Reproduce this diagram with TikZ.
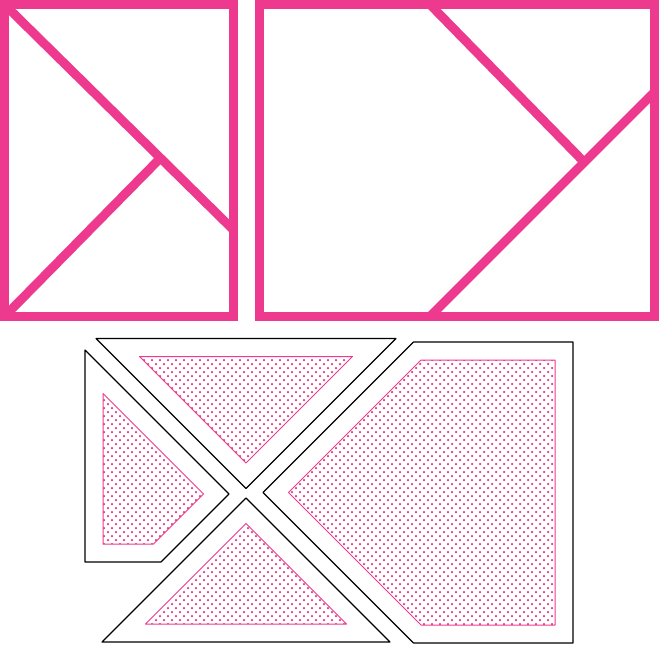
\documentclass[tikz,border=0pt]{standalone}
\definecolor{pk}{HTML}{EE3A8E}
\definecolor{pkdot}{HTML}{DC3A80}
\tikzset{
  frameline/.style={draw=pk, line width=9pt, line join=miter},
  cutline/.style={draw=pk, line width=9pt, line cap=butt},
  piece/.style={draw=black, line width=1.1pt, line join=round},
  inner/.style={draw=pk, line width=1pt, line join=round},
  dotmark/.style={fill=pkdot}
}
\newcommand{\dotgrid}[2]{%
  \foreach \yy in {#2}{%
    \foreach \xx in {#1}{%
      \fill[dotmark] (\xx,\yy) circle[radius=1.25pt] (\xx+4,\yy+4) circle[radius=1.25pt];
    }%
  }%
}
\begin{document}
\begin{tikzpicture}[x=1pt, y=-1pt]
\useasboundingbox (0,0) rectangle (659,645);
% ---- top left rectangle
\draw[frameline] (4.5,4.5) rectangle (233.5,316.5);
\coordinate (l1a) at (4.5,4.5);
\coordinate (l1b) at (233.5,230);
\coordinate (l2a) at (4.5,316.5);
\coordinate (lx) at (158.5,160);
\draw[cutline] (l1a) -- (l1b);
\draw[cutline] (l2a) -- (lx);
% ---- top right rectangle
\draw[frameline] (259,4.5) rectangle (654,316.5);
\coordinate (r1a) at (430,4.5);
\coordinate (rx) at (584,162);
\coordinate (r2a) at (430,316.5);
\coordinate (r2b) at (654,92.5);
\draw[cutline] (r1a) -- (rx);
\draw[cutline] (r2a) -- (r2b);
% ---- bottom pieces: outer outlines
\draw[piece] (96,338.5) -- (396,338.5) -- (246,488.5) -- cycle;
\draw[piece] (246,498) -- (390,642) -- (102,642) -- cycle;
\draw[piece] (85,350) -- (229,494) -- (161,562) -- (85,562) -- cycle;
\draw[piece] (413.5,342) -- (573,342) -- (573,643) -- (413.5,643) -- (263,492.5) -- cycle;
% ---- inner dotted areas
\begin{scope}
  \clip (139.5,356.5) -- (352.5,356.5) -- (246,463) -- cycle;
  \dotgrid{136,144,...,352}{352,360,...,464}
\end{scope}
\begin{scope}
  \clip (246,523.5) -- (346.5,624) -- (145.5,624) -- cycle;
  \dotgrid{144,152,...,352}{520,528,...,624}
\end{scope}
\begin{scope}
  \clip (103,393.5) -- (203.5,494) -- (153.5,544) -- (103,544) -- cycle;
  \dotgrid{96,104,...,208}{392,400,...,544}
\end{scope}
\begin{scope}
  \clip (421,360) -- (555,360) -- (555,625) -- (421,625) -- (288.5,492.5) -- cycle;
  \dotgrid{280,288,...,560}{352,360,...,624}
\end{scope}
\draw[inner] (139.5,356.5) -- (352.5,356.5) -- (246,463) -- cycle;
\draw[inner] (246,523.5) -- (346.5,624) -- (145.5,624) -- cycle;
\draw[inner] (103,393.5) -- (203.5,494) -- (153.5,544) -- (103,544) -- cycle;
\draw[inner] (421,360) -- (555,360) -- (555,625) -- (421,625) -- (288.5,492.5) -- cycle;
\end{tikzpicture}
\end{document}
